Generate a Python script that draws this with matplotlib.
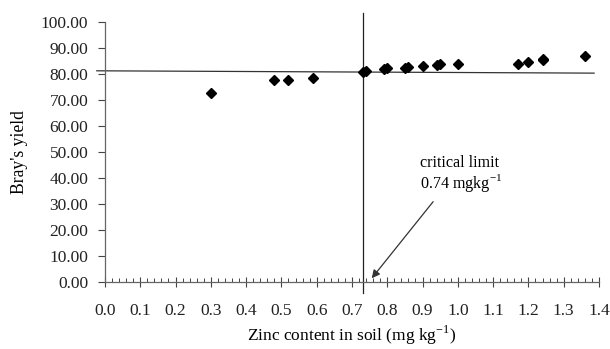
import matplotlib.pyplot as plt
from matplotlib.ticker import MultipleLocator, FormatStrFormatter

plt.rcParams['font.family'] = ['Liberation Serif', 'DejaVu Serif']
plt.rcParams['mathtext.fontset'] = 'custom'
plt.rcParams['mathtext.rm'] = 'Liberation Serif'

# zinc content (mg/kg) and Bray's yield
zinc = [0.30, 0.48, 0.52, 0.59, 0.73, 0.74, 0.79, 0.80, 0.85, 0.86,
        0.90, 0.94, 0.95, 1.00, 1.17, 1.20, 1.24, 1.24, 1.36]
yield_pct = [72.7, 77.6, 77.6, 78.6, 80.8, 81.1, 81.9, 82.3, 82.4, 82.7,
             82.9, 83.5, 83.8, 83.9, 83.8, 84.6, 85.5, 85.9, 87.0]

# Cate-Nelson style split lines
crit_x = 0.731
vline_y = [-4.5, 103.3]
hline_x = [-0.023, 1.386]
hline_y = [81.2, 80.3]

fig = plt.figure(figsize=(6.1, 3.49), dpi=100)
ax = fig.add_axes([0.172, 0.193, 0.81, 0.744])

ax.plot(zinc, yield_pct, 'D', color='black', markersize=5.5, zorder=3)
ax.plot(hline_x, hline_y, color='#333333', lw=0.9, clip_on=False)
ax.plot([crit_x, crit_x], vline_y, color='#222222', lw=0.9, clip_on=False)

ax.annotate('', xy=(0.756, 1.3), xytext=(0.930, 30.8),
            arrowprops=dict(arrowstyle='-|>', color='#333333', lw=0.9,
                            mutation_scale=12, shrinkA=0, shrinkB=0))
ax.text(0.893, 45.6, 'critical limit', fontsize=11.6, va='center', ha='left')
ax.text(0.893, 38.0, '0.74 mgkg$^{-1}$', fontsize=11.6,
        va='center', ha='left')

ax.set_xlim(0, 1.4)
ax.set_ylim(0, 100)
ax.xaxis.set_major_locator(MultipleLocator(0.1))
ax.xaxis.set_minor_locator(MultipleLocator(0.02))
ax.yaxis.set_major_locator(MultipleLocator(10))
ax.xaxis.set_major_formatter(FormatStrFormatter('%.1f'))
ax.yaxis.set_major_formatter(FormatStrFormatter('%.2f'))

for side in ['top', 'right']:
    ax.spines[side].set_visible(False)
for side in ['left', 'bottom']:
    ax.spines[side].set_color('#666666')
    ax.spines[side].set_linewidth(0.9)

ax.tick_params(axis='y', direction='out', length=5, width=0.8,
               color='#444444', labelsize=12.5, labelcolor='#222222', pad=7)
ax.tick_params(axis='x', which='major', direction='inout', length=7,
               width=0.8, color='#444444', labelsize=12.5,
               labelcolor='#222222', pad=12)
ax.tick_params(axis='x', which='minor', direction='in', length=3,
               width=0.7, color='#444444')

ax.set_xlabel('Zinc content in soil (mg kg$^{-1}$)',
              fontsize=12.5, labelpad=3)
ax.set_ylabel("Bray's yield", fontsize=12.7, labelpad=9)

fig.savefig('out.png', dpi=100)
